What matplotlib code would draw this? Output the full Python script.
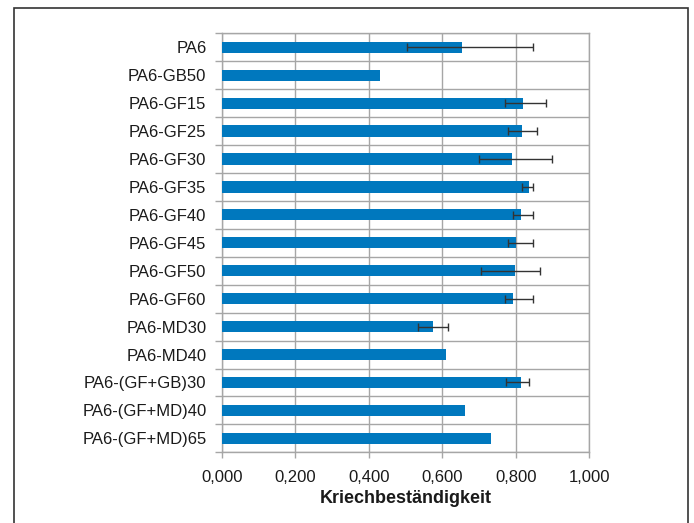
import numpy as np
import matplotlib
matplotlib.use("Agg")
import matplotlib.pyplot as plt
from matplotlib.patches import Rectangle

labels = ["PA6", "PA6-GB50", "PA6-GF15", "PA6-GF25", "PA6-GF30", "PA6-GF35",
          "PA6-GF40", "PA6-GF45", "PA6-GF50", "PA6-GF60", "PA6-MD30", "PA6-MD40",
          "PA6-(GF+GB)30", "PA6-(GF+MD)40", "PA6-(GF+MD)65"]
values = [0.655, 0.431, 0.819, 0.816, 0.789, 0.836, 0.813, 0.800, 0.797, 0.793,
          0.576, 0.610, 0.813, 0.662, 0.732]
err_low = [0.503, 0.431, 0.771, 0.778, 0.701, 0.818, 0.793, 0.780, 0.705, 0.771,
           0.535, 0.610, 0.773, 0.662, 0.732]
err_high = [0.848, 0.431, 0.882, 0.859, 0.899, 0.848, 0.848, 0.848, 0.866, 0.848,
            0.616, 0.610, 0.837, 0.662, 0.732]
has_err = [True, False, True, True, True, True, True, True, True, True,
           True, False, True, False, False]
xticks = [0.0, 0.2, 0.4, 0.6, 0.8, 1.0]
xlabel = "Kriechbeständigkeit"

plt.rcParams['font.family'] = ['Liberation Sans', 'DejaVu Sans']

fig = plt.figure(figsize=(6.94, 5.23), dpi=100)
ax = fig.add_axes([221.7/694, 1 - 452.3/523, (589.3 - 221.7)/694, (452.3 - 33.3)/523])

y = np.arange(len(labels))
vals = np.array(values)
ax.barh(y, vals, height=0.4, color='#0078BE', zorder=3)

idx = [i for i in range(len(labels)) if has_err[i]]
lo = np.array([vals[i] - err_low[i] for i in idx])
hi = np.array([err_high[i] - vals[i] for i in idx])
ax.errorbar(vals[idx], y[idx], xerr=[lo, hi], fmt='none', ecolor='#333333',
            elinewidth=1, capsize=3, capthick=1, zorder=4)

grid_c = '#A6A6A6'
txt_c = '#1a1a1a'
ax.set_xlim(0, 1.0)
ax.set_ylim(len(labels) - 0.5, -0.5)
ax.set_xticks(xticks)
ax.set_xticklabels([f"{t:.3f}".replace('.', ',') for t in xticks], fontsize=12, color=txt_c)
ax.set_yticks(y)
ax.set_yticklabels(labels, fontsize=12, color=txt_c)
ax.set_yticks(np.arange(-0.5, len(labels), 1.0), minor=True)
ax.tick_params(axis='y', which='major', length=0, pad=11)
ax.tick_params(axis='y', which='minor', length=5, color=grid_c, width=1)
ax.tick_params(axis='x', which='major', length=4, color=grid_c, width=1, pad=9)
ax.grid(True, axis='x', color=grid_c, lw=1, zorder=0)
ax.grid(True, axis='y', which='minor', color=grid_c, lw=1, zorder=0)
for s in ax.spines.values():
    s.set_color(grid_c)
    s.set_linewidth(1)

ax.set_xlabel(xlabel, fontsize=13, fontweight='bold', color=txt_c, labelpad=3)

fig.patches.append(Rectangle((14/694, -0.05), (688 - 14)/694, 1.05 - 8/523,
                             transform=fig.transFigure, fill=False,
                             edgecolor='#333333', lw=1.2))

fig.savefig("out.png", dpi=100)
